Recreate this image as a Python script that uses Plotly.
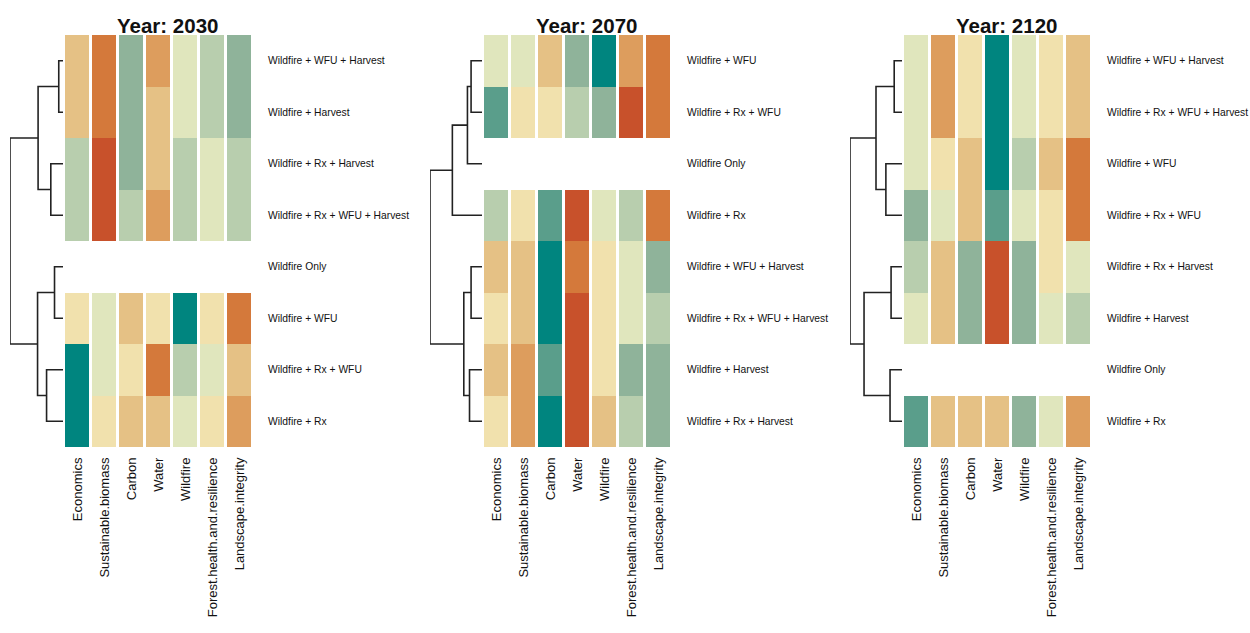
import plotly.graph_objects as go

W, H = 1250, 633

columns = ["Economics", "Sustainable.biomass", "Carbon", "Water", "Wildfire",
           "Forest.health.and.resilience", "Landscape.integrity"]

# colour class per cell: 1 = strongest teal ... 10 = strongest red-orange; None = no data
rows_2030 = ["Wildfire + WFU + Harvest", "Wildfire + Harvest", "Wildfire + Rx + Harvest",
             "Wildfire + Rx + WFU + Harvest", "Wildfire Only", "Wildfire + WFU",
             "Wildfire + Rx + WFU", "Wildfire + Rx"]
levels_2030 = [
    [7, 9, 3, 8, 5, 4, 3],
    [7, 9, 3, 7, 5, 4, 3],
    [4, 10, 3, 7, 4, 5, 4],
    [4, 10, 4, 8, 4, 5, 4],
    [None] * 7,
    [6, 5, 7, 6, 1, 6, 9],
    [1, 5, 6, 9, 4, 5, 7],
    [1, 6, 7, 7, 5, 6, 8],
]
# merges: (child a, child b, height); leaves 0..7, new nodes numbered from 8
merges_2030 = [(0, 1, 0.08), (2, 3, 0.23), (4, 5, 0.16), (6, 7, 0.31),
               (8, 9, 0.47), (10, 11, 0.48), (12, 13, 1.0)]

rows_2070 = ["Wildfire + WFU", "Wildfire + Rx + WFU", "Wildfire Only", "Wildfire + Rx",
             "Wildfire + WFU + Harvest", "Wildfire + Rx + WFU + Harvest",
             "Wildfire + Harvest", "Wildfire + Rx + Harvest"]
levels_2070 = [
    [5, 5, 7, 3, 1, 8, 9],
    [2, 6, 6, 4, 3, 10, 9],
    [None] * 7,
    [4, 6, 2, 10, 5, 4, 9],
    [7, 7, 1, 9, 6, 5, 3],
    [6, 7, 1, 10, 6, 5, 4],
    [7, 8, 2, 10, 6, 3, 3],
    [6, 8, 1, 10, 7, 4, 3],
]
merges_2070 = [(0, 1, 0.21), (8, 2, 0.28), (9, 3, 0.57), (4, 5, 0.21),
               (6, 7, 0.24), (11, 12, 0.35), (10, 13, 1.0)]

rows_2120 = ["Wildfire + WFU + Harvest", "Wildfire + Rx + WFU + Harvest", "Wildfire + WFU",
             "Wildfire + Rx + WFU", "Wildfire + Rx + Harvest", "Wildfire + Harvest",
             "Wildfire Only", "Wildfire + Rx"]
levels_2120 = [
    [5, 8, 6, 1, 5, 6, 7],
    [5, 8, 6, 1, 5, 6, 7],
    [5, 6, 7, 1, 4, 7, 9],
    [3, 5, 7, 2, 5, 6, 9],
    [4, 7, 3, 10, 3, 6, 5],
    [5, 7, 3, 10, 3, 5, 4],
    [None] * 7,
    [2, 7, 7, 7, 3, 5, 8],
]
merges_2120 = [(0, 1, 0.15), (2, 3, 0.31), (8, 9, 0.50), (4, 5, 0.21),
               (6, 7, 0.23), (11, 12, 0.73), (10, 13, 1.0)]

years = ["2030", "2070", "2120"]

palette = ["#00857F", "#5A9E8B", "#8FB39A", "#B8CEAE", "#E0E6BD",
           "#F1E1AD", "#E5C185", "#DD9D5D", "#D4793B", "#C8512B"]
colorscale = [[i / (len(palette) - 1), c] for i, c in enumerate(palette)]

panels = [
    (rows_2030, levels_2030, merges_2030),
    (rows_2070, levels_2070, merges_2070),
    (rows_2120, levels_2120, merges_2120),
]

# pixel layout
heat_x = [(64, 253), (483, 672), (903, 1092)]
dend_x = [(10, 63), (430, 482), (850, 902)]
title_x = [167, 586, 1006]
top_px, bot_px = 35, 447
y_dom = [1 - bot_px / H, 1 - top_px / H]

fig = go.Figure()
font = "Liberation Sans, Arial, sans-serif"

layout_axes = {}
for p, (rows, levels, merges) in enumerate(panels):
    hx_ax = 2 * p + 1
    dx_ax = 2 * p + 2
    hx_name = "x" if hx_ax == 1 else f"x{hx_ax}"
    hy_name = "y" if hx_ax == 1 else f"y{hx_ax}"
    dx_name = f"x{dx_ax}"
    dy_name = f"y{dx_ax}"
    n = len(rows)
    fig.add_trace(go.Heatmap(
        z=levels, x=list(range(len(columns))), y=list(range(n)),
        colorscale=colorscale, zmin=1, zmax=len(palette), showscale=False,
        xgap=3, ygap=0, hoverongaps=False,
        xaxis=hx_name, yaxis=hy_name,
    ))
    # dendrogram
    pos = {i: (float(i), 0.0) for i in range(n)}
    xs, ys = [], []
    nid = n
    for a, b, h in merges:
        ya, ha = pos[a]
        yb, hb = pos[b]
        xs += [ha, h, h, hb, None]
        ys += [ya, ya, yb, yb, None]
        pos[nid] = ((ya + yb) / 2, h)
        nid += 1
    fig.add_trace(go.Scatter(
        x=xs, y=ys, mode="lines", line=dict(color="#222222", width=1.6),
        hoverinfo="skip", showlegend=False, xaxis=dx_name, yaxis=dy_name,
    ))
    hk = "xaxis" if hx_ax == 1 else f"xaxis{hx_ax}"
    hyk = "yaxis" if hx_ax == 1 else f"yaxis{hx_ax}"
    layout_axes[hk] = dict(
        domain=[heat_x[p][0] / W, heat_x[p][1] / W], anchor=hy_name,
        tickmode="array", tickvals=list(range(len(columns))), ticktext=columns,
        tickangle=-90, showgrid=False, zeroline=False, showline=False,
        ticks="", ticklabelstandoff=7, automargin=False,
        tickfont=dict(family=font, size=13, color="#111111"),
        range=[-0.5, len(columns) - 0.5], fixedrange=True,
    )
    layout_axes[hyk] = dict(
        domain=y_dom, anchor=hx_name, side="right",
        tickmode="array", tickvals=list(range(n)), ticktext=rows,
        range=[n - 0.5, -0.5], showgrid=False, zeroline=False, showline=False,
        ticks="", ticklabelstandoff=14, automargin=False,
        tickfont=dict(family=font, size=10.3, color="#111111"), fixedrange=True,
    )
    layout_axes[f"xaxis{dx_ax}"] = dict(
        domain=[dend_x[p][0] / W, dend_x[p][1] / W], anchor=dy_name,
        range=[1.0, 0.0], visible=False, fixedrange=True, automargin=False,
    )
    layout_axes[f"yaxis{dx_ax}"] = dict(
        domain=y_dom, anchor=dx_name, range=[n - 0.5, -0.5],
        visible=False, fixedrange=True, automargin=False,
    )

annotations = [
    dict(text=f"<b>Year: {y}</b>", x=title_x[i] / W, y=1 - 25 / H,
         xref="paper", yref="paper", xanchor="center", yanchor="middle",
         showarrow=False, font=dict(family=font, size=20.5, color="#111111"))
    for i, y in enumerate(years)
]

fig.update_layout(
    width=W, height=H, margin=dict(l=0, r=0, t=0, b=0, autoexpand=False),
    paper_bgcolor="white", plot_bgcolor="white",
    showlegend=False, annotations=annotations, **layout_axes,
)

fig.write_html(
    "out.html",
    config={"displayModeBar": False},
    post_script="document.body.style.margin='0px';document.body.style.overflow='hidden';",
)
